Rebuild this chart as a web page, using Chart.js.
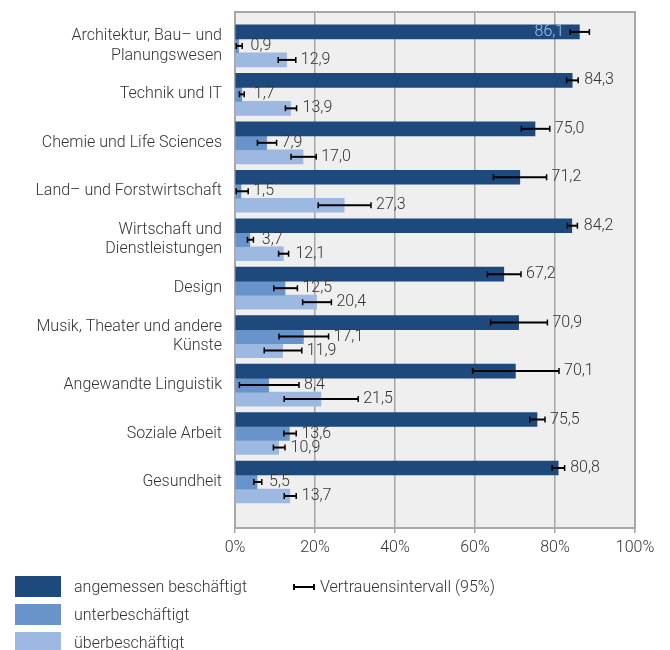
<!DOCTYPE html>
<html lang="de">
<head>
<meta charset="utf-8">
<title>Beschäftigungssituation nach Fachbereich</title>
<script src="https://cdn.jsdelivr.net/npm/chart.js@4.4.1/dist/chart.umd.min.js"></script>
<style>
  body { margin: 0; background: #fff; }
  #wrap { position: relative; width: 670px; height: 650px; overflow: hidden;
          font-family: Roboto, "Noto Sans", sans-serif; font-weight: 300; color: #333; }
  #chart { position: absolute; left: 0; top: 0; }
  .key { position: absolute; left: 15px; height: 21px; display: flex; align-items: center; font-size: 16px; white-space: nowrap; }
  .swatch { width: 46px; height: 21px; margin-right: 13px; }
  .ci { position: absolute; left: 293px; top: 576px; height: 21px; display: flex; align-items: center; font-size: 16px; white-space: nowrap; }
  .ci-line { position: relative; width: 22px; height: 2px; background: #000; margin-right: 5px; }
  .ci-line::before, .ci-line::after { content: ""; position: absolute; top: -2px; width: 2px; height: 6px; background: #000; }
  .ci-line::before { left: 0; }
  .ci-line::after { right: 0; }
</style>
</head>
<body>
<div id="wrap">
  <canvas id="chart" width="670" height="650"></canvas>
  <div class="key" style="top:576px"><span class="swatch" style="background:#1d497c"></span>angemessen beschäftigt</div>
  <div class="key" style="top:604px"><span class="swatch" style="background:#6893cb"></span>unterbeschäftigt</div>
  <div class="key" style="top:632px"><span class="swatch" style="background:#9db9e1"></span>überbeschäftigt</div>
  <div class="ci"><span class="ci-line"></span>Vertrauensintervall (95%)</div>
</div>
<script>
// Fachbereiche (von oben nach unten)
const categories = [
  ['Architektur, Bau– und', 'Planungswesen'],
  'Technik und IT',
  'Chemie und Life Sciences',
  'Land– und Forstwirtschaft',
  ['Wirtschaft und', 'Dienstleistungen'],
  'Design',
  ['Musik, Theater und andere', 'Künste'],
  'Angewandte Linguistik',
  'Soziale Arbeit',
  'Gesundheit'
];

// Anteile in %
const angemessen = [86.1, 84.3, 75.0, 71.2, 84.2, 67.2, 70.9, 70.1, 75.5, 80.8];
const unterbeschaeftigt = [0.9, 1.7, 7.9, 1.5, 3.7, 12.5, 17.1, 8.4, 13.6, 5.5];
const ueberbeschaeftigt = [12.9, 13.9, 17.0, 27.3, 12.1, 20.4, 11.9, 21.5, 10.9, 13.7];

// 95%-Vertrauensintervalle (untere / obere Grenze)
const angemessenLow = [83.8, 82.9, 71.6, 64.6, 83.1, 63.1, 63.9, 59.4, 73.7, 79.3];
const angemessenHigh = [88.6, 85.8, 78.7, 77.9, 85.6, 71.5, 78.1, 81.0, 77.5, 82.4];
const unterLow = [0.3, 1.1, 5.6, 0.3, 3.1, 9.7, 11.0, 1.1, 12.2, 4.7];
const unterHigh = [1.8, 2.3, 10.4, 3.3, 4.6, 15.6, 23.4, 16.0, 15.3, 6.7];
const ueberLow = [10.8, 12.6, 14.0, 20.8, 10.9, 16.9, 7.3, 12.3, 9.6, 12.3];
const ueberHigh = [15.2, 15.4, 20.3, 34.0, 13.4, 24.1, 16.7, 30.8, 12.5, 15.3];

// x-Achse
const xTicks = [0, 20, 40, 60, 80, 100];

const toPoints = values => values.map((v, i) => ({ x: v, y: i }));

// grauer Hintergrund und Rahmen der Zeichenfläche
const plotBackground = {
    id: 'plotBackground',
    beforeDraw(chart) {
        const { ctx, chartArea: a } = chart;
        ctx.save();
        ctx.fillStyle = '#efefef';
        ctx.fillRect(a.left, a.top, a.right - a.left, a.bottom - a.top);
        ctx.restore();
    },
    beforeDatasetsDraw(chart) {
        const { ctx, chartArea: a } = chart;
        ctx.save();
        ctx.strokeStyle = '#a8a8a8';
        ctx.lineWidth = 2;
        ctx.strokeRect(a.left, a.top, a.right - a.left, a.bottom - a.top);
        ctx.restore();
    }
};

// Fehlerbalken und Wertbeschriftung
const errorBars = {
    id: 'errorBars',
    afterDatasetsDraw(chart) {
        const ctx = chart.ctx;
        const xs = chart.scales.x;
        chart.data.datasets.forEach((ds, d) => {
            const meta = chart.getDatasetMeta(d);
            meta.data.forEach((bar, i) => {
                const lo = xs.getPixelForValue(ds.ciLow[i]);
                const hi = xs.getPixelForValue(ds.ciHigh[i]);
                const y = bar.y;
                ctx.save();
                ctx.strokeStyle = '#000';
                ctx.lineWidth = 2;
                ctx.beginPath();
                ctx.moveTo(lo, y);
                ctx.lineTo(hi, y);
                ctx.stroke();
                ctx.lineWidth = 1.5;
                ctx.beginPath();
                ctx.moveTo(lo, y - 3);
                ctx.lineTo(lo, y + 3);
                ctx.moveTo(hi, y - 3);
                ctx.lineTo(hi, y + 3);
                ctx.stroke();

                const text = ds.data[i].x.toFixed(1).replace('.', ',');
                ctx.font = '300 16px Roboto';
                ctx.textBaseline = 'middle';
                const w = ctx.measureText(text).width;
                const tx = Math.max(bar.x + 12, hi + 5);
                if (tx + w > chart.chartArea.right - 15) {
                    ctx.textAlign = 'right';
                    ctx.fillStyle = '#a9c1e3';
                    ctx.fillText(text, lo - 6, y);
                } else {
                    ctx.textAlign = 'left';
                    ctx.fillStyle = '#333';
                    ctx.fillText(text, tx, y);
                }
                ctx.restore();
            });
        });
    }
};

Chart.defaults.font.family = 'Roboto';
Chart.defaults.font.weight = 300;
Chart.defaults.font.size = 16;
Chart.defaults.color = '#333';

new Chart(document.getElementById('chart'), {
    type: 'bar',
    data: {
        datasets: [{
            label: 'angemessen beschäftigt',
            data: toPoints(angemessen),
            ciLow: angemessenLow,
            ciHigh: angemessenHigh,
            backgroundColor: '#1d497c'
        }, {
            label: 'unterbeschäftigt',
            data: toPoints(unterbeschaeftigt),
            ciLow: unterLow,
            ciHigh: unterHigh,
            backgroundColor: '#6893cb'
        }, {
            label: 'überbeschäftigt',
            data: toPoints(ueberbeschaeftigt),
            ciLow: ueberLow,
            ciHigh: ueberHigh,
            backgroundColor: '#9db9e1'
        }]
    },
    options: {
        indexAxis: 'y',
        responsive: false,
        devicePixelRatio: 1,
        animation: false,
        barThickness: 14,
        layout: {
            padding: { top: 12, right: 35, left: 0, bottom: 0 }
        },
        plugins: {
            legend: { display: false },
            tooltip: { enabled: false }
        },
        scales: {
            x: {
                type: 'linear',
                position: 'bottom',
                min: 0,
                max: 100,
                afterBuildTicks: scale => { scale.ticks = xTicks.map(v => ({ value: v })); },
                afterFit: scale => {
                    scale.height = 122;
                    scale.paddingLeft = 0;
                    scale.paddingRight = 0;
                },
                ticks: {
                    padding: 5,
                    color: '#333',
                    callback: v => v + '%'
                },
                grid: {
                    color: '#a6a6a6',
                    lineWidth: 1.5,
                    tickLength: 5,
                    tickColor: '#a6a6a6'
                },
                border: { display: false }
            },
            y: {
                type: 'linear',
                reverse: true,
                offset: false,
                min: -0.70,
                max: 9.95,
                afterBuildTicks: scale => { scale.ticks = categories.map((_, i) => ({ value: i })); },
                afterFit: scale => {
                    scale.width = 235;
                    scale.paddingTop = 0;
                    scale.paddingBottom = 0;
                },
                ticks: {
                    padding: 13,
                    autoSkip: false,
                    color: '#333',
                    font: { lineHeight: 1.2 },
                    callback: v => categories[v]
                },
                grid: { display: false, drawTicks: false },
                border: { display: false }
            }
        }
    },
    plugins: [plotBackground, errorBars]
});
</script>
</body>
</html>
